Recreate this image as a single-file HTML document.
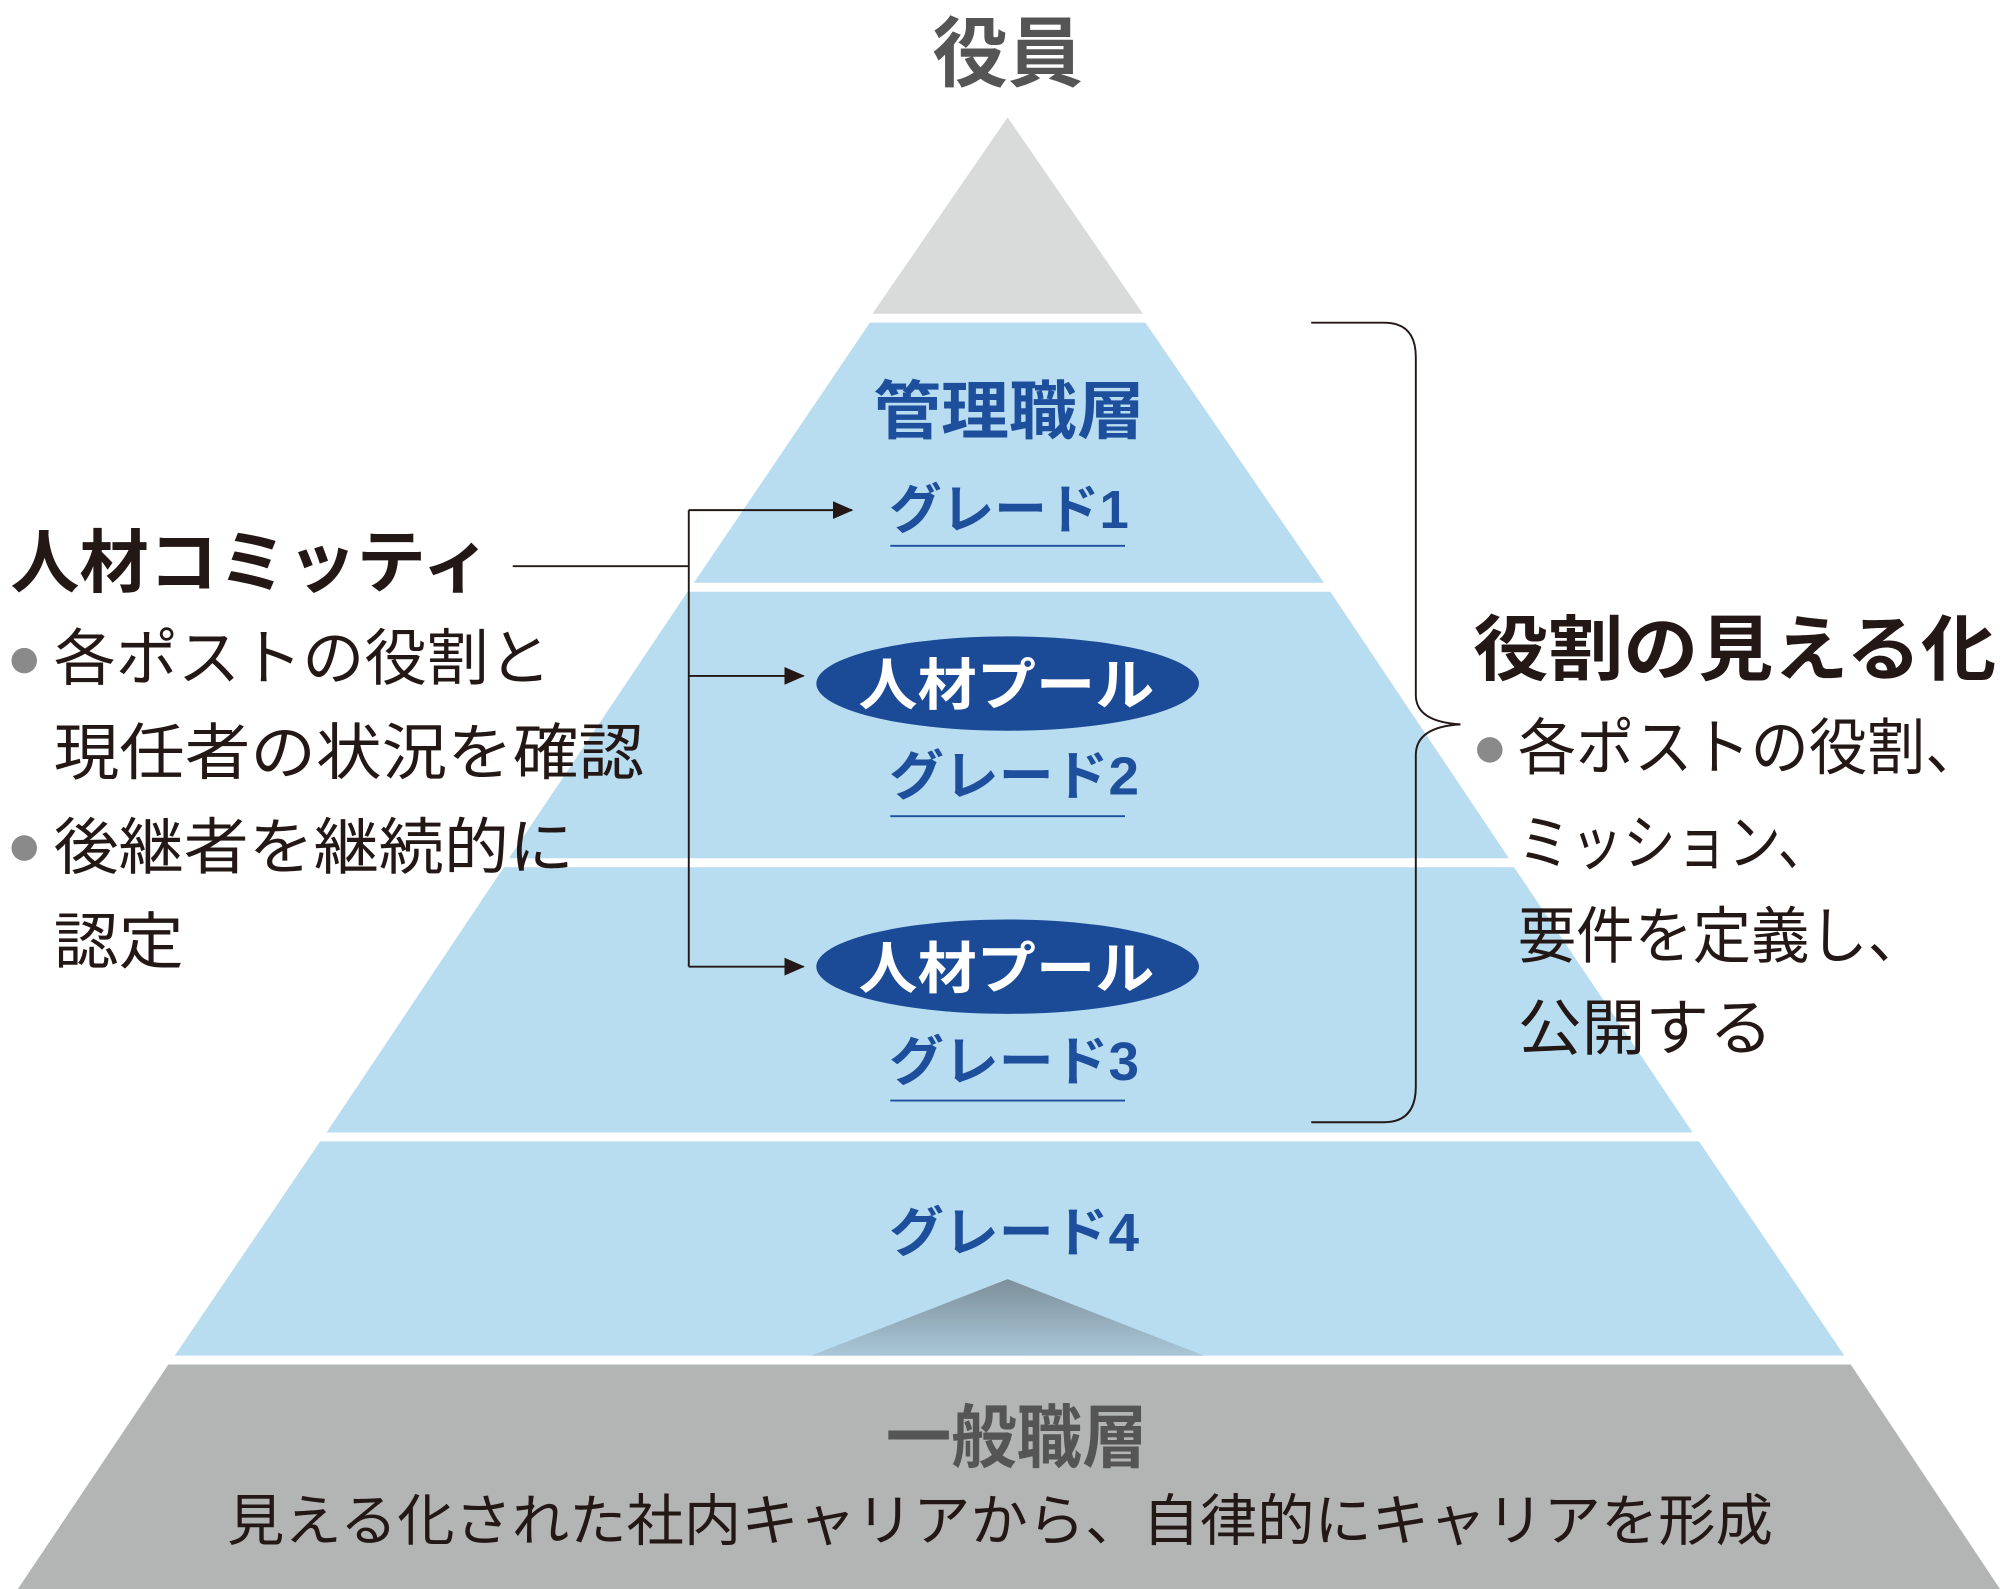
<!DOCTYPE html>
<html><head><meta charset="utf-8"><style>
html,body{margin:0;padding:0;background:#fff;}
svg{display:block;}
text{font-family:"Liberation Sans","Noto Sans CJK JP",sans-serif;}
</style></head><body>
<svg width="2000" height="1589" viewBox="0 0 1568 1246" preserveAspectRatio="none" xmlns="http://www.w3.org/2000/svg">
<defs>
<linearGradient id="g" x1="0" y1="0" x2="0" y2="1">
<stop offset="0" stop-color="#7d8f9a"/><stop offset="1" stop-color="#a9c7d8"/>
</linearGradient>
<marker id="ar" markerWidth="16" markerHeight="14" refX="15" refY="7" orient="auto" markerUnits="userSpaceOnUse">
<path d="M0,0 L16,7 L0,14 z" fill="#231815"/>
</marker>
</defs>
<polygon points="790,92 896,246 684,246" fill="#d9dada"/>
<polygon points="682,253 898,253 1038,457 544,457" fill="#b8dcf0"/>
<polygon points="539,464 1043,464 1183,673 399,673" fill="#b8dcf0"/>
<polygon points="395,680 1187,680 1327,888 256,888" fill="#b8dcf0"/>
<polygon points="251,895 1332,895 1446,1063 137,1063" fill="#b8dcf0"/>
<polygon points="790,1003 944,1063 636,1063" fill="url(#g)"/>
<polygon points="132,1070 1451,1070 1568,1246 14,1246" fill="#b3b4b4"/>

<text x="790" y="63" font-size="60" font-weight="bold" fill="#555" text-anchor="middle" textLength="118" lengthAdjust="spacingAndGlyphs">役員</text>
<text x="791" y="340" font-size="50" font-weight="bold" fill="#1e4f9c" text-anchor="middle" textLength="213" lengthAdjust="spacingAndGlyphs">管理職層</text>
<text x="791" y="414" font-size="42" font-weight="bold" fill="#1e4f9c" text-anchor="middle" textLength="188" lengthAdjust="spacingAndGlyphs">グレード1</text>
<line x1="698" y1="428" x2="882" y2="428" stroke="#1e4f9c" stroke-width="1.5"/>

<ellipse cx="790" cy="536" rx="150" ry="37" fill="#1b4a97"/>
<text x="789" y="553" font-size="44" font-weight="bold" fill="#fff" text-anchor="middle" textLength="232" lengthAdjust="spacingAndGlyphs">人材プール</text>
<text x="795" y="623" font-size="42" font-weight="bold" fill="#1e4f9c" text-anchor="middle" textLength="196" lengthAdjust="spacingAndGlyphs">グレード2</text>
<line x1="698" y1="640" x2="882" y2="640" stroke="#1e4f9c" stroke-width="1.5"/>

<ellipse cx="790" cy="758" rx="150" ry="37" fill="#1b4a97"/>
<text x="789" y="775" font-size="44" font-weight="bold" fill="#fff" text-anchor="middle" textLength="232" lengthAdjust="spacingAndGlyphs">人材プール</text>
<text x="795" y="847" font-size="42" font-weight="bold" fill="#1e4f9c" text-anchor="middle" textLength="196" lengthAdjust="spacingAndGlyphs">グレード3</text>
<line x1="698" y1="863" x2="882" y2="863" stroke="#1e4f9c" stroke-width="1.5"/>

<text x="795" y="981" font-size="42" font-weight="bold" fill="#1e4f9c" text-anchor="middle" textLength="196" lengthAdjust="spacingAndGlyphs">グレード4</text>

<text x="797" y="1146" font-size="54" font-weight="bold" fill="#555" text-anchor="middle" textLength="205" lengthAdjust="spacingAndGlyphs">一般職層</text>
<text x="784" y="1208" font-size="44" fill="#231815" text-anchor="middle" textLength="1212" lengthAdjust="spacingAndGlyphs">見える化された社内キャリアから、自律的にキャリアを形成</text>

<text x="8" y="460" font-size="54" font-weight="bold" fill="#231815" textLength="377" lengthAdjust="spacingAndGlyphs">人材コミッティ</text>
<line x1="402" y1="444" x2="540" y2="444" stroke="#231815" stroke-width="1.5"/>
<line x1="540" y1="400" x2="540" y2="758" stroke="#231815" stroke-width="1.5"/>
<line x1="540" y1="400" x2="668" y2="400" stroke="#231815" stroke-width="1.5" marker-end="url(#ar)"/>
<line x1="540" y1="530" x2="630" y2="530" stroke="#231815" stroke-width="1.5" marker-end="url(#ar)"/>
<line x1="540" y1="758" x2="630" y2="758" stroke="#231815" stroke-width="1.5" marker-end="url(#ar)"/>
<circle cx="19" cy="518" r="10" fill="#8a8a8a"/>
<text x="42" y="533" font-size="48" fill="#231815" textLength="390" lengthAdjust="spacingAndGlyphs">各ポストの役割と</text>
<text x="42" y="607" font-size="48" fill="#231815" textLength="463" lengthAdjust="spacingAndGlyphs">現任者の状況を確認</text>
<circle cx="19" cy="665" r="10" fill="#8a8a8a"/>
<text x="42" y="681" font-size="48" fill="#231815" textLength="408" lengthAdjust="spacingAndGlyphs">後継者を継続的に</text>
<text x="42" y="755" font-size="48" fill="#231815" textLength="102" lengthAdjust="spacingAndGlyphs">認定</text>

<path d="M1028,253 L1085,253 Q1110,253 1110,280 L1110,545 Q1110,566 1145,568 Q1110,570 1110,592 L1110,852 Q1110,880 1085,880 L1028,880" fill="none" stroke="#231815" stroke-width="1.5"/>

<text x="1155" y="529" font-size="56" font-weight="bold" fill="#231815" textLength="410" lengthAdjust="spacingAndGlyphs">役割の見える化</text>
<circle cx="1168" cy="588" r="10" fill="#8a8a8a"/>
<text x="1190" y="603" font-size="48" fill="#231815" textLength="365" lengthAdjust="spacingAndGlyphs">各ポストの役割、</text>
<text x="1190" y="678" font-size="48" fill="#231815" textLength="245" lengthAdjust="spacingAndGlyphs">ミッション、</text>
<text x="1190" y="751" font-size="48" fill="#231815" textLength="320" lengthAdjust="spacingAndGlyphs">要件を定義し、</text>
<text x="1190" y="823" font-size="48" fill="#231815" textLength="200" lengthAdjust="spacingAndGlyphs">公開する</text>
</svg>
</body></html>
